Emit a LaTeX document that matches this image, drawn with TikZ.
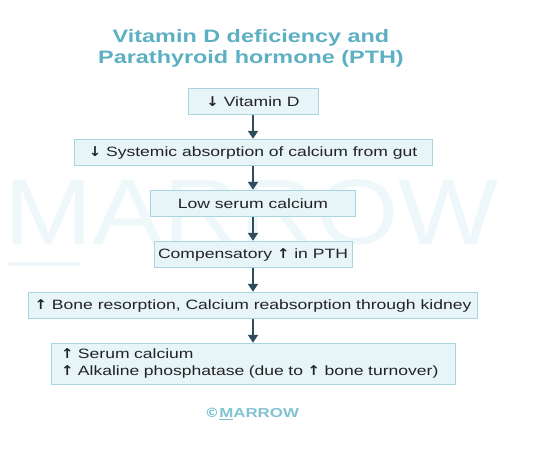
\documentclass[tikz,border=0pt]{standalone}
\usepackage{fontspec}
\setmainfont{Liberation Sans}[FakeStretch=1.3]
\newfontfamily\plainfont{Liberation Sans}
\newfontfamily\symfont{DejaVu Sans}[FakeStretch=1.1]
\usetikzlibrary{positioning, arrows.meta}

\definecolor{titleteal}{RGB}{92,176,194}
\definecolor{logoteal}{RGB}{128,196,212}
\definecolor{boxfill}{RGB}{231,244,248}
\definecolor{boxline}{RGB}{170,212,224}
\definecolor{boxtext}{RGB}{35,35,35}
\definecolor{arrowcol}{RGB}{46,76,92}
\definecolor{wmark}{RGB}{238,248,251}

\newcommand{\dnarr}{{\symfont\bfseries\char"2193}}
\newcommand{\uparr}{{\symfont\bfseries\char"2191}}

\begin{document}
\begin{tikzpicture}[x=1pt, y=-1pt, node distance=23.5pt, >=Latex]

\tikzset{
  block/.style={
    rectangle, draw=boxline, fill=boxfill, line width=1pt, text=boxtext,
    minimum height=26.5pt, inner sep=3pt, font=\fontsize{13.5}{17}\selectfont
  },
  arrow/.style={-{Triangle[width=10pt,length=8pt]}, line width=2pt, draw=arrowcol}
}

\useasboundingbox (0,0) rectangle (553,451);

% ==========================
% Watermark
% ==========================
\node[text=wmark, font=\plainfont\fontsize{93}{93}\selectfont, xscale=1.14, anchor=west]
  (wm) at (0,212) {MARROW};
\draw[wmark, line width=4pt] (8,264) -- (80,264);

% ==========================
% Title
% ==========================
\node[text=titleteal, font=\bfseries\fontsize{18}{21}\selectfont, align=center]
  (title) at (251,48) {Vitamin D deficiency and\\Parathyroid hormone (PTH)};

% ==========================
% Chain (top -> bottom)
% ==========================
\node[block, minimum width=130pt] (vitd) at (253,101.5) {\dnarr\ Vitamin D};
\node[block, minimum width=358pt, below=of vitd] (absorb)
  {\dnarr\ Systemic absorption of calcium from gut};
\node[block, minimum width=205pt, below=of absorb] (lowca) {Low serum calcium};
\node[block, minimum width=198pt, below=of lowca] (pth)
  {Compensatory \uparr\ in PTH};
\node[block, minimum width=449pt, below=of pth] (bone)
  {\uparr\ Bone resorption, Calcium reabsorption through kidney};
\node[block, minimum width=404pt, minimum height=41pt, text width=384pt, align=left,
  below=of bone] (result)
  {\uparr\ Serum calcium\\\uparr\ Alkaline phosphatase (due to \uparr\ bone turnover)};

\draw[arrow] (vitd) -- (absorb);
\draw[arrow] (absorb) -- (lowca);
\draw[arrow] (lowca) -- (pth);
\draw[arrow] (pth) -- (bone);
\draw[arrow] (bone) -- (result);

% Logo
\node[text=logoteal, font=\bfseries\fontsize{13}{15}\selectfont] (logo) at (252,414)
  {{\symfont\char"00A9}\underline{M}ARROW};

\end{tikzpicture}
\end{document}
